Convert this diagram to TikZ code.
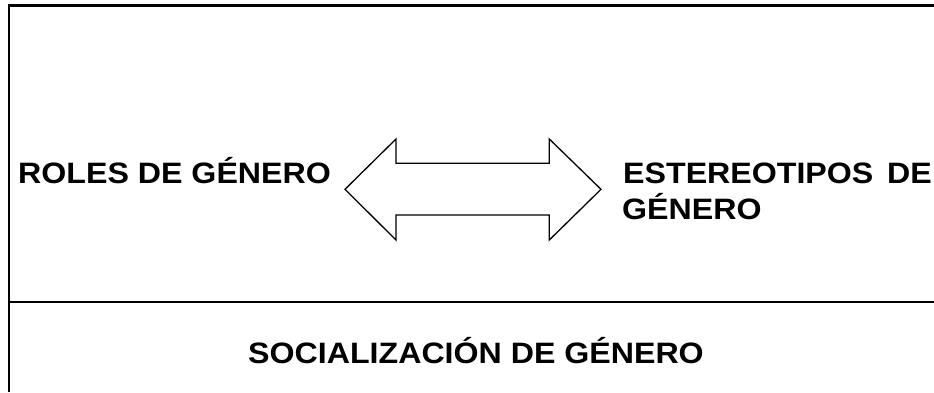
\documentclass[tikz,border=0pt]{standalone}
\usepackage{fontspec}
\setmainfont{Liberation Sans}[FakeStretch=1.09]
\begin{document}
\begin{tikzpicture}[x=1pt,y=-1pt,
  frame/.style={line width=2.6pt,black},
  label/.style={inner sep=0pt,font=\fontsize{29.5}{36}\selectfont\bfseries},
  bigarrow/.style={draw=black,line width=1.3pt,fill=white,line join=miter}]
\useasboundingbox (0,0) rectangle (934,392);
% frame
\coordinate (tl) at (9,5.5);
\coordinate (tr) at (934,5.5);
\coordinate (bl) at (9,392);
\coordinate (ml) at (9,302);
\coordinate (mr) at (934,302);
\draw[frame] (bl) -- (tl) -- (tr);
\draw[frame] (ml) -- (mr);
% double arrow
\draw[bigarrow] (345,189.3) -- (396,139) -- (396,163.3) -- (549.3,163.3) -- (549.3,139)
  -- (601,189.3) -- (549.3,240) -- (549.3,215) -- (396,215) -- (396,240) -- cycle;
% texts
\node[label,anchor=base west] (roles) at (18,183) {ROLES DE GÉNERO};
\node[label,anchor=base west] (est) at (623,183) {ESTEREOTIPOS};
\node[label,anchor=base west] (de) at (887,183) {DE};
\node[label,anchor=base west] (gen) at (622,219) {GÉNERO};
\node[label,anchor=base] (soc) at (476,363) {SOCIALIZACIÓN DE GÉNERO};
\end{tikzpicture}
\end{document}
